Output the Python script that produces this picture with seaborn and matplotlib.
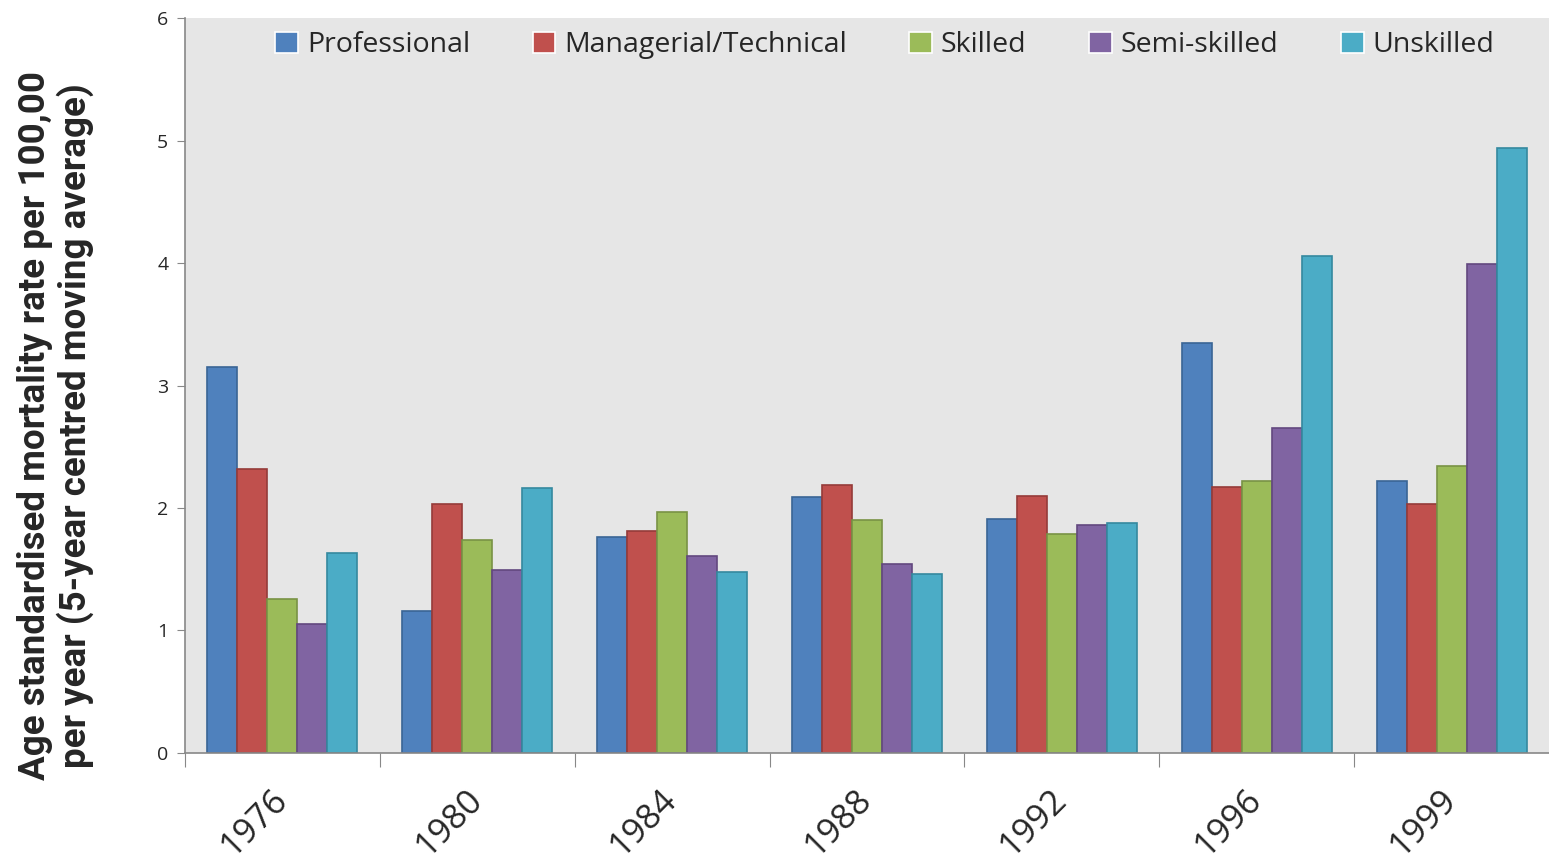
import numpy as np
import pandas as pd
import matplotlib
matplotlib.use("Agg")
import matplotlib.pyplot as plt
import seaborn as sns

# ----------------------------
# Data
# ----------------------------

years = ["1976", "1980", "1984", "1988", "1992", "1996", "1999"]
groups = ["Professional", "Managerial/Technical", "Skilled", "Semi-skilled", "Unskilled"]

professional = [3.15, 1.16, 1.76, 2.09, 1.91, 3.35, 2.22]
managerial = [2.32, 2.03, 1.81, 2.19, 2.10, 2.17, 2.03]
skilled = [1.26, 1.74, 1.97, 1.90, 1.79, 2.22, 2.34]
semi_skilled = [1.05, 1.49, 1.61, 1.54, 1.86, 2.65, 3.99]
unskilled = [1.63, 2.16, 1.48, 1.46, 1.88, 4.06, 4.94]

colors = ["#4F81BD", "#C0504D", "#9BBB59", "#8064A2", "#4BACC6"]
edges = ["#3A6595", "#953B39", "#799345", "#63487F", "#35899F"]

df = pd.DataFrame({
    "year": np.tile(years, len(groups)),
    "group": np.repeat(groups, len(years)),
    "rate": professional + managerial + skilled + semi_skilled + unskilled,
})

# ----------------------------
# Plot
# ----------------------------

sns.set_style("white")
plt.rcParams["font.family"] = ["Open Sans", "DejaVu Sans"]

fig = plt.figure(figsize=(15.49, 8.63), dpi=100)
ax = fig.add_axes([0.1194, 0.1275, 0.8806, 0.8516])
ax.set_facecolor("#E6E6E6")

sns.barplot(
    data=df,
    x="year",
    y="rate",
    hue="group",
    order=years,
    hue_order=groups,
    palette=colors,
    width=0.77,
    gap=0,
    saturation=1,
    linewidth=1.2,
    ax=ax,
)

for container, ec in zip(ax.containers, edges):
    for bar in container:
        bar.set_edgecolor(ec)

ax.set_xlim(-0.5, 6.5)
ax.set_ylim(0, 6)
ax.set_yticks(range(7))
ax.tick_params(axis="y", labelsize=14, length=6, color="#888888", left=True, pad=6)

# boundary ticks (major, no labels) and year labels at centres (minor)
ax.set_xticks(np.arange(-0.5, 6.5, 1.0))
ax.set_xticklabels([])
ax.tick_params(axis="x", which="major", length=10, color="#888888", bottom=True, direction="out")
ax.set_xticks(range(len(years)), minor=True)
ax.set_xticklabels(years, minor=True, rotation=45, ha="right", va="center",
                   rotation_mode="anchor", fontsize=25)
ax.tick_params(axis="x", which="minor", length=0, pad=30)

for side in ["top", "right"]:
    ax.spines[side].set_visible(False)
for side in ["left", "bottom"]:
    ax.spines[side].set_color("#888888")
    ax.spines[side].set_linewidth(1.2)

ax.set_xlabel("")
ax.set_ylabel("Age standardised mortality rate per 100,00\nper year (5-year centred moving average)",
              fontsize=26.5, fontweight="bold", linespacing=1.1,
              family=["Roboto", "DejaVu Sans"])
ax.yaxis.set_label_coords(-0.067, 0.446)

leg = ax.legend(loc="upper center", bbox_to_anchor=(0.513, 1.005), ncol=5, frameon=False,
                fontsize=20.5, handlelength=0.8, handleheight=0.8, handletextpad=0.3,
                columnspacing=2.2, borderaxespad=0.2)

plt.savefig("out.png", dpi=100)
